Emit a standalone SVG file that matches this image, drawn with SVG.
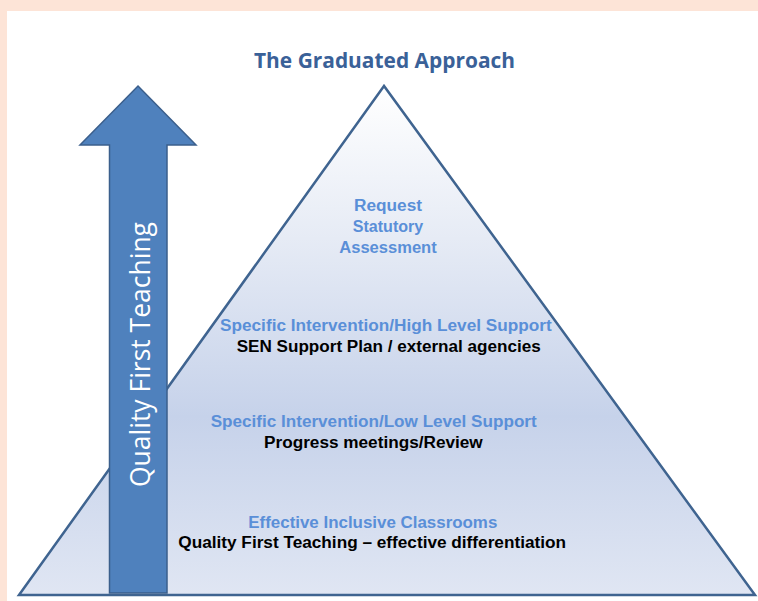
<svg xmlns="http://www.w3.org/2000/svg" width="758" height="601" viewBox="0 0 758 601">
  <defs>
    <linearGradient id="triFill" x1="0" y1="86" x2="0" y2="595" gradientUnits="userSpaceOnUse">
      <stop offset="0" stop-color="#ffffff"/>
      <stop offset="0.3" stop-color="#e6ebf5"/>
      <stop offset="0.65" stop-color="#c6d2ea"/>
      <stop offset="1" stop-color="#e0e6f3"/>
    </linearGradient>
    <style>
      .title { font-family: "Open Sans", "Liberation Sans", sans-serif; font-weight: bold; font-size: 21px; fill: #3a6198; }
      .blue { font-family: "Liberation Sans", Arial, sans-serif; font-weight: bold; font-size: 16px; fill: #5a8fd8; }
      .black { font-family: "Liberation Sans", Arial, sans-serif; font-weight: bold; font-size: 16px; fill: #000000; }
      .arrowtxt { font-family: "Open Sans", "Liberation Sans", sans-serif; font-size: 28px; fill: #ffffff; }
      .tri { fill: url(#triFill); stroke: #3f6490; stroke-width: 2.5; stroke-linejoin: miter; }
      .arrow { fill: #4f81bd; stroke: #3b5f8c; stroke-width: 1.5; }
    </style>
  </defs>

  <rect x="0" y="0" width="758" height="601" fill="#fde4d7"/>
  <rect x="7" y="11" width="751" height="590" fill="#ffffff"/>

  <text class="title" x="384.5" y="68" text-anchor="middle" textLength="261" lengthAdjust="spacingAndGlyphs">The Graduated Approach</text>

  <g id="pyramid">
    <polygon class="tri" points="384,86 19,595 755,595"/>
  </g>

  <g id="arrow">
    <polygon class="arrow" points="138,86 196,145 167,145 167,593 109.5,593 109.5,145 80,145"/>
    <text class="arrowtxt" transform="translate(150,487) rotate(-90)" textLength="265" lengthAdjust="spacingAndGlyphs">Quality First Teaching</text>
  </g>

  <g id="level-top">
    <text class="blue" x="388" y="210.7" text-anchor="middle" textLength="68" lengthAdjust="spacingAndGlyphs">Request</text>
    <text class="blue" x="388" y="231.7" text-anchor="middle" textLength="70.6" lengthAdjust="spacingAndGlyphs">Statutory</text>
    <text class="blue" x="388" y="252.7" text-anchor="middle" textLength="97.4" lengthAdjust="spacingAndGlyphs">Assessment</text>
  </g>

  <g id="level-high">
    <text class="blue" x="220" y="330.7" textLength="331.7" lengthAdjust="spacingAndGlyphs">Specific Intervention/High Level Support</text>
    <text class="black" x="236.7" y="351.7" textLength="304" lengthAdjust="spacingAndGlyphs">SEN Support Plan / external agencies</text>
  </g>

  <g id="level-low">
    <text class="blue" x="210.7" y="427.3" textLength="326" lengthAdjust="spacingAndGlyphs">Specific Intervention/Low Level Support</text>
    <text class="black" x="264" y="448.3" textLength="218.7" lengthAdjust="spacingAndGlyphs">Progress meetings/Review</text>
  </g>

  <g id="level-base">
    <text class="blue" x="248.3" y="528.3" textLength="249" lengthAdjust="spacingAndGlyphs">Effective Inclusive Classrooms</text>
    <text class="black" x="178.3" y="548.3" textLength="387.7" lengthAdjust="spacingAndGlyphs">Quality First Teaching – effective differentiation</text>
  </g>
</svg>
